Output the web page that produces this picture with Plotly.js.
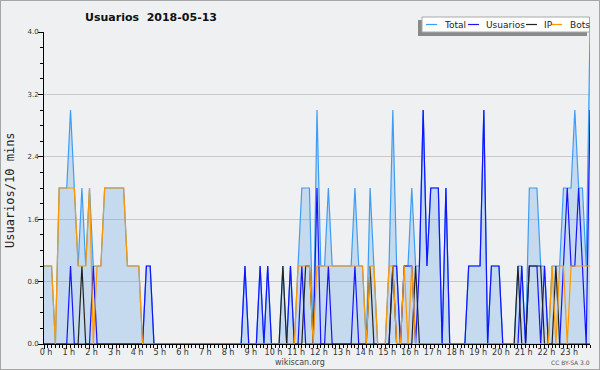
<!DOCTYPE html>
<html>
<head>
<meta charset="utf-8">
<script src="https://cdn.plot.ly/plotly-3.0.1.min.js"></script>
<style>
html,body{margin:0;padding:0;background:#eff0f1;}
#wrap{position:relative;width:600px;height:370px;}
#chart{width:600px;height:370px;}
#frame{position:absolute;left:0;top:0;width:600px;height:370px;box-sizing:border-box;border:1px solid #a6a6a6;pointer-events:none;}
</style>
</head>
<body>
<div id="wrap"><div id="chart"></div><div id="frame"></div></div>
<script>
// 10-minute slots, 0:00 .. 24:00 (145 points)
const slotCount = 145;
const total    = [1,1,1,0,2,2,2,3,2,1, 2,1,2,1,1,1,2,2,2,2, 2,2,1,1,1,1,0,1,1,0, 0,0,0,0,0,0,0,0,0,0, 0,0,0,0,0,0,0,0,0,0, 0,0,0,1,0,0,0,1,0,1, 0,0,0,1,0,1,0,1,2,2, 2,0,3,1,1,2,1,1,1,1, 1,1,2,1,1,0,2,1,0,0, 0,1,3,1,0,1,1,2,1,1, 3,1,2,2,2,0,2,0,0,0, 0,0,1,1,1,1,3,0,1,1, 1,0,0,0,0,1,1,0,2,2, 2,1,1,0,1,1,1,2,2,2, 3,2,2,1,4];
const usuarios = [0,0,0,0,0,0,0,1,0,0, 0,0,0,1,0,0,0,0,0,0, 0,0,0,0,0,0,0,1,1,0, 0,0,0,0,0,0,0,0,0,0, 0,0,0,0,0,0,0,0,0,0, 0,0,0,1,0,0,0,1,0,1, 0,0,0,0,0,1,0,0,1,0, 0,0,2,0,0,1,0,0,0,0, 0,0,1,0,0,0,0,0,0,0, 0,0,1,1,0,1,1,1,0,1, 3,1,2,2,2,0,2,0,0,0, 0,0,1,1,1,1,3,0,1,1, 1,0,0,0,0,0,1,0,1,1, 1,0,1,0,0,0,0,1,2,1, 1,2,1,0,3];
const ip       = [0,0,0,0,0,0,0,0,0,0, 1,0,0,0,0,0,0,0,0,0, 0,0,0,0,0,0,0,0,0,0, 0,0,0,0,0,0,0,0,0,0, 0,0,0,0,0,0,0,0,0,0, 0,0,0,0,0,0,0,0,0,0, 0,0,0,1,0,0,0,0,0,1, 1,0,0,0,0,0,0,0,0,0, 0,0,0,0,0,0,1,0,0,0, 0,0,1,0,0,0,0,0,1,0, 0,0,0,0,0,0,0,0,0,0, 0,0,0,0,0,0,0,0,0,0, 0,0,0,0,0,1,0,0,1,1, 1,1,0,0,0,1,0,0,0,0, 0,0,0,0,0];
const bots     = [1,1,1,0,2,2,2,2,2,1, 1,1,2,0,1,1,2,2,2,2, 2,2,1,1,1,1,0,0,0,0, 0,0,0,0,0,0,0,0,0,0, 0,0,0,0,0,0,0,0,0,0, 0,0,0,0,0,0,0,0,0,0, 0,0,0,0,0,0,0,1,1,1, 1,0,1,1,1,1,1,1,1,1, 1,1,1,1,1,0,1,1,0,0, 0,1,1,0,0,1,0,1,0,0, 0,0,0,0,0,0,0,0,0,0, 0,0,0,0,0,0,0,0,0,0, 0,0,0,0,0,0,0,0,0,0, 0,0,0,0,1,0,1,1,0,1, 1,1,1,1,1];
const hourTicks = [0,1,2,3,4,5,6,7,8,9,10,11,12,13,14,15,16,17,18,19,20,21,22,23];
const hourLabels = ["0 h","1 h","2 h","3 h","4 h","5 h","6 h","7 h","8 h","9 h","10 h","11 h","12 h","13 h","14 h","15 h","16 h","17 h","18 h","19 h","20 h","21 h","22 h","23 h"];
const yTicks = [0,0.8,1.6,2.4,3.2,4.0];
const yLabels = ["0.0","0.8","1.6","2.4","3.2","4.0"];
const seriesNames = ["Total","Usuarios","IP","Bots"];
const seriesColors = ["#3d9df5","#1414ff","#222222","#ff9900"];

const hours = [];
for (let i = 0; i < slotCount; i++) hours.push(i / 6);

const seriesData = [total, usuarios, ip, bots];
const traces = seriesData.map((vals, k) => {
  const tr = {
    x: hours, y: vals, type: 'scatter', mode: 'lines', name: seriesNames[k],
    line: {color: seriesColors[k], width: 1.2, shape: 'linear'},
    hoverinfo: 'skip', showlegend: false
  };
  if (k === 0) { tr.fill = 'tozeroy'; tr.fillcolor = 'rgba(70,150,230,0.25)'; }
  return tr;
});

// plot box in px
const L = 44, R = 590, T = 32, B = 344, W = 600, H = 370;
const px = v => (v - L) / (R - L);
const py = v => (B - v) / (B - T);

const shapes = [
  {type:'rect', xref:'paper', yref:'paper', x0:px(418), x1:px(587), y0:py(36), y1:py(20), fillcolor:'#8a8a8a', line:{width:0}, layer:'above'},
  {type:'rect', xref:'paper', yref:'paper', x0:px(422), x1:px(589.5), y0:py(32), y1:py(17), fillcolor:'#ffffff', line:{color:'#a8a8a8', width:1}, layer:'above'}
];
const legX = [[426,437,442],[468,479,484],[526,537,542],[552,562,568]];
const annotations = [];
legX.forEach((p, k) => {
  shapes.push({type:'line', xref:'paper', yref:'paper', x0:px(p[0]), x1:px(p[1]), y0:py(24.5), y1:py(24.5), line:{color:seriesColors[k], width:1.2}, layer:'above'});
  annotations.push({xref:'paper', yref:'paper', x:px(p[2]), y:py(24.5), xanchor:'left', yanchor:'middle', text:seriesNames[k], showarrow:false, font:{family:'DejaVu Sans', size:9, color:'#222'}});
});
annotations.push({xref:'paper', yref:'paper', x:px(10), y:py(190), xanchor:'center', yanchor:'middle', textangle:-90, text:'Usuarios/10 mins', showarrow:false, font:{family:'DejaVu Sans Mono', size:12, color:'#222'}});
annotations.push({xref:'paper', yref:'paper', x:px(300), y:py(362), xanchor:'center', yanchor:'middle', text:'wikiscan.org', showarrow:false, font:{family:'DejaVu Sans', size:8, color:'#444'}});
annotations.push({xref:'paper', yref:'paper', x:px(570), y:py(362), xanchor:'center', yanchor:'middle', text:'CC BY-SA 3.0', showarrow:false, font:{family:'DejaVu Sans', size:6, color:'#555'}});

const layout = {
  width: W, height: H,
  margin: {l: L, r: W - R, t: T, b: H - B, pad: 0},
  paper_bgcolor: '#eff0f1', plot_bgcolor: '#eff0f1',
  title: {text: '<b>Usuarios&nbsp;&nbsp;2018-05-13</b>', xref: 'container', yref: 'container', x: 151/600, xanchor: 'center', y: 1 - 17/370, yanchor: 'middle', font: {family: 'DejaVu Sans', size: 11, color: '#111'}},
  xaxis: {
    range: [0, 24], fixedrange: true, showgrid: false, zeroline: false,
    showline: true, linecolor: '#000', linewidth: 1,
    tickmode: 'array', tickvals: hourTicks, ticktext: hourLabels,
    ticks: 'outside', ticklen: 4, tickcolor: '#000', tickwidth: 1,
    ticklabelshift: 2, ticklabelstandoff: -4,
    tickfont: {family: 'DejaVu Sans', size: 8, color: '#333'},
    minor: {dtick: 1/6, tick0: 0, ticks: 'outside', ticklen: 3, tickcolor: '#000', tickwidth: 1, showgrid: false}
  },
  yaxis: {
    range: [0, 4], fixedrange: true, zeroline: false,
    showline: true, linecolor: '#000', linewidth: 1,
    tickmode: 'array', tickvals: yTicks, ticktext: yLabels,
    ticks: 'outside', ticklen: 5, tickcolor: '#000', tickwidth: 1,
    ticklabelstandoff: -2,
    showgrid: true, gridcolor: '#c9c9c9', gridwidth: 1,
    tickfont: {family: 'DejaVu Sans', size: 7, color: '#333'},
    minor: {dtick: 0.2, tick0: 0, ticks: 'outside', ticklen: 3, tickcolor: '#000', tickwidth: 1, showgrid: false}
  },
  shapes: shapes,
  annotations: annotations,
  showlegend: false
};

Plotly.newPlot('chart', traces, layout, {staticPlot: true, displayModeBar: false});
</script>
</body>
</html>
